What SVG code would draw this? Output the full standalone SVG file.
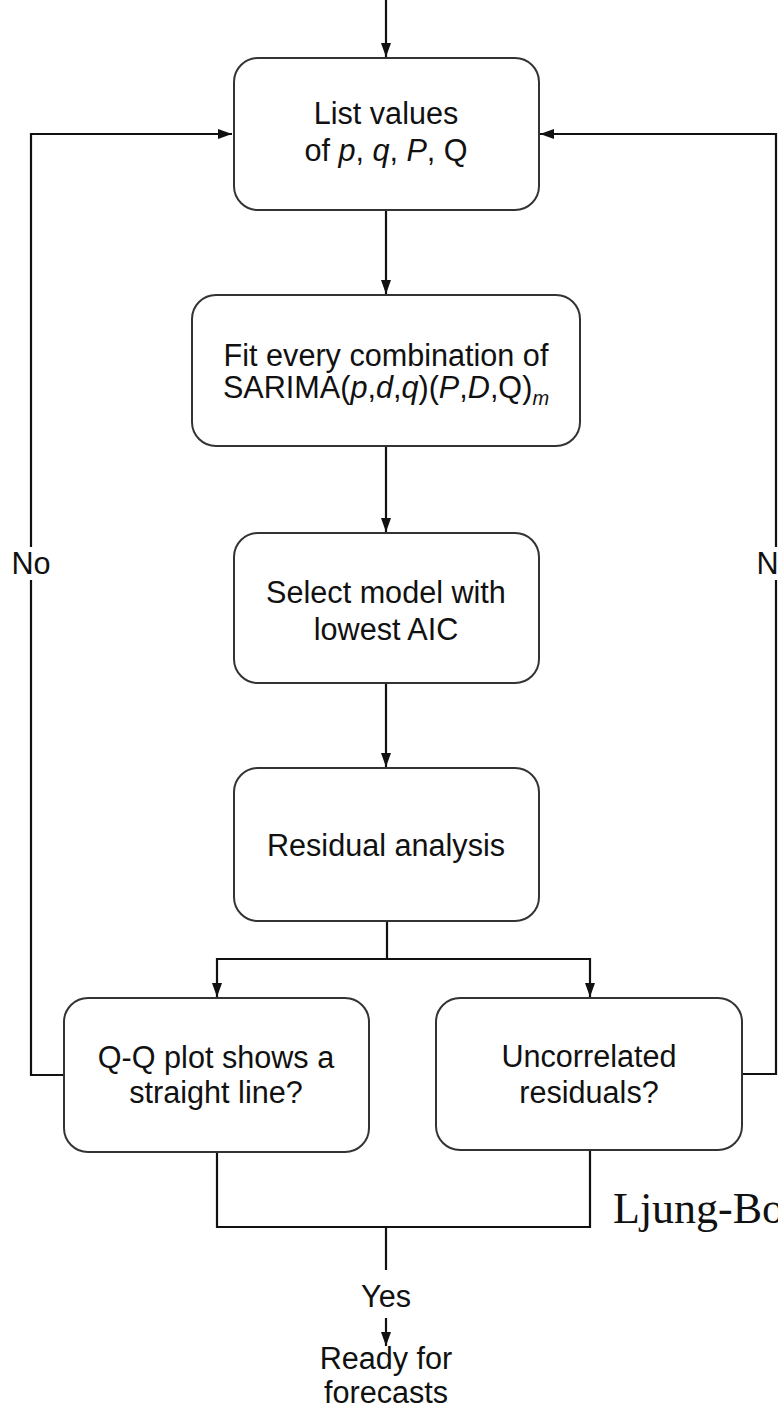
<svg xmlns="http://www.w3.org/2000/svg" width="778" height="1411" viewBox="0 0 778 1411">
<style>
.box{fill:#fff;stroke:#333;stroke-width:2}
.ln{fill:none;stroke:#111;stroke-width:2.2}
.t{font-family:"Liberation Sans",Arial,sans-serif;font-size:30.6px;fill:#111;text-anchor:middle}
.i{font-style:italic}
.lb{font-family:"Liberation Serif","Times New Roman",serif;font-size:44px;fill:#111}
</style>
<defs>
<marker id="ah" viewBox="0 0 14 10" refX="14" refY="5" markerWidth="14" markerHeight="10" markerUnits="userSpaceOnUse" orient="auto">
<path d="M0,0 L14,5 L0,10 Z" fill="#111"/>
</marker>
</defs>
<rect width="778" height="1411" fill="#fff"/>
<g id="connectors">
<path class="ln" d="M386,0 V57" marker-end="url(#ah)"/>
<path class="ln" d="M386,210 V294" marker-end="url(#ah)"/>
<path class="ln" d="M386,446 V532" marker-end="url(#ah)"/>
<path class="ln" d="M386,683 V767" marker-end="url(#ah)"/>
<path class="ln" d="M387,921 V959"/>
<path class="ln" d="M387,959 H217 V997" marker-end="url(#ah)"/>
<path class="ln" d="M387,959 H590 V997" marker-end="url(#ah)"/>
<path class="ln" d="M64,1075 H31 V580"/>
<path class="ln" d="M31,547 V134 H232" marker-end="url(#ah)"/>
<path class="ln" d="M742,1074 H776 V580"/>
<path class="ln" d="M776,547 V134 H540" marker-end="url(#ah)"/>
<path class="ln" d="M217,1152 V1227 H590 V1150"/>
<path class="ln" d="M386,1227 V1270"/>
<path class="ln" d="M386,1318 V1346" marker-end="url(#ah)"/>
</g>
<g id="n1">
<rect class="box" x="234" y="58" width="305" height="152" rx="24"/>
<text class="t" x="386" y="124">List values</text>
<text class="t" x="386" y="161">of <tspan class="i">p</tspan>, <tspan class="i">q</tspan>, <tspan class="i">P</tspan>, Q</text>
</g>
<g id="n2">
<rect class="box" x="192" y="295" width="388" height="151" rx="24"/>
<text class="t" x="386" y="366">Fit every combination of</text>
<text class="t" x="386" y="398">SARIMA(<tspan class="i">p</tspan>,<tspan class="i">d</tspan>,<tspan class="i">q</tspan>)(<tspan class="i">P</tspan>,<tspan class="i">D</tspan>,Q)<tspan class="i" font-size="20" dy="7">m</tspan></text>
</g>
<g id="n3">
<rect class="box" x="234" y="533" width="305" height="150" rx="24"/>
<text class="t" x="386" y="603">Select model with</text>
<text class="t" x="386" y="640">lowest AIC</text>
</g>
<g id="n4">
<rect class="box" x="234" y="768" width="305" height="153" rx="24"/>
<text class="t" x="386" y="856">Residual analysis</text>
</g>
<g id="n5">
<rect class="box" x="64" y="998" width="305" height="154" rx="24"/>
<text class="t" x="216" y="1068">Q-Q plot shows a</text>
<text class="t" x="216" y="1103">straight line?</text>
</g>
<g id="n6">
<rect class="box" x="436" y="998" width="306" height="152" rx="24"/>
<text class="t" x="589" y="1067">Uncorrelated</text>
<text class="t" x="589" y="1103">residuals?</text>
</g>
<g id="labels">
<text class="t" x="31" y="574">No</text>
<text class="t" x="776" y="574">No</text>
<text class="t" x="386" y="1307">Yes</text>
<text class="lb" x="613" y="1223">Ljung-Box</text>
</g>
<g id="n7">
<text class="t" x="386" y="1369">Ready for</text>
<text class="t" x="386" y="1403">forecasts</text>
</g>
</svg>
